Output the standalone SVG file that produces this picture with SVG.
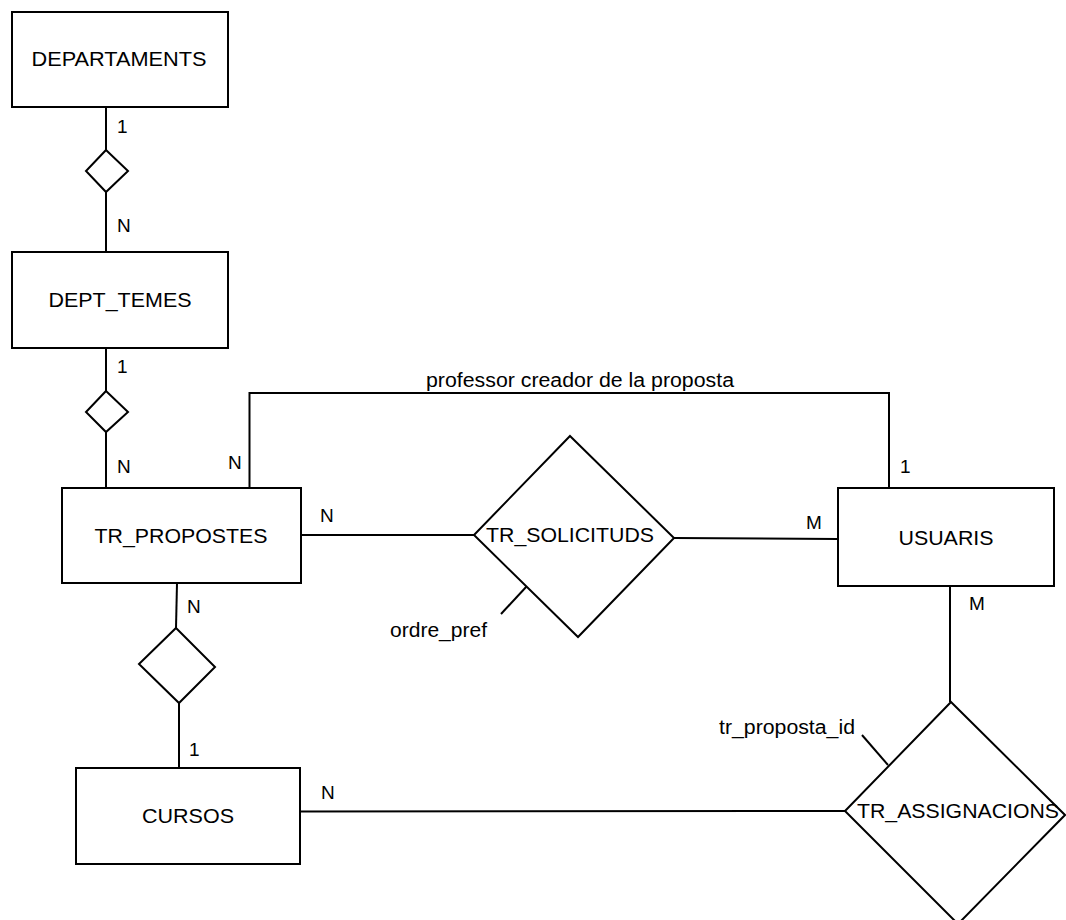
<svg xmlns="http://www.w3.org/2000/svg" width="1066" height="920" viewBox="0 0 1066 920">
<style>
.ent{fill:#fff;stroke:#000;stroke-width:2}
.rel{fill:#fff;stroke:#000;stroke-width:2;stroke-linejoin:miter}
.ln{fill:none;stroke:#000;stroke-width:2}
text{font-family:"Liberation Sans",Arial,sans-serif;font-size:20px;fill:#000}
.c{text-anchor:middle}
.lbl{font-size:19px}
</style>
<rect width="1066" height="920" fill="#fff"/>
<g id="connectors">
<line class="ln" x1="106" y1="107" x2="106" y2="150"/>
<line class="ln" x1="106" y1="192" x2="106" y2="252"/>
<line class="ln" x1="106" y1="348" x2="106" y2="391"/>
<line class="ln" x1="106" y1="432" x2="106" y2="488"/>
<polyline class="ln" points="249.5,488 249.5,393 889,393 889,488"/>
<line class="ln" x1="301" y1="535" x2="474" y2="535"/>
<line class="ln" x1="674" y1="538" x2="838" y2="539"/>
<line class="ln" x1="177" y1="583" x2="176" y2="628"/>
<line class="ln" x1="179" y1="703" x2="179" y2="768"/>
<line class="ln" x1="950" y1="586" x2="950" y2="702"/>
<line class="ln" x1="300" y1="811.5" x2="845" y2="811"/>
<line class="ln" x1="527" y1="586" x2="501" y2="614"/>
<line class="ln" x1="862" y1="735" x2="888" y2="765"/>
<text class="lbl" x="117" y="133">1</text>
<text class="lbl" x="117" y="232">N</text>
<text class="lbl" x="117" y="373">1</text>
<text class="lbl" x="117" y="473">N</text>
<text class="lbl" x="228" y="469">N</text>
<text class="lbl" x="320" y="522">N</text>
<text class="lbl" x="187" y="613">N</text>
<text class="lbl" x="189" y="756">1</text>
<text class="lbl" x="321" y="799">N</text>
<text class="lbl" x="900" y="473">1</text>
<text class="lbl" x="806" y="529">M</text>
<text class="lbl" x="969" y="610">M</text>
<text x="580" y="387" class="c" textLength="308" lengthAdjust="spacingAndGlyphs">professor creador de la proposta</text>
<text x="390" y="637" textLength="97" lengthAdjust="spacingAndGlyphs">ordre_pref</text>
<text x="719" y="734" textLength="136" lengthAdjust="spacingAndGlyphs">tr_proposta_id</text>
</g>
<g id="DEPARTAMENTS">
<rect class="ent" x="12" y="12" width="216" height="95"/>
<text class="c" x="119" y="66" textLength="175" lengthAdjust="spacingAndGlyphs">DEPARTAMENTS</text>
</g>
<g id="rel_dept">
<polygon class="rel" points="106,150 128,171 106,192 86,171"/>
</g>
<g id="DEPT_TEMES">
<rect class="ent" x="12" y="252" width="216" height="96"/>
<text class="c" x="120" y="307" textLength="143" lengthAdjust="spacingAndGlyphs">DEPT_TEMES</text>
</g>
<g id="rel_temes">
<polygon class="rel" points="106,391 128,412 106,432 86,412"/>
</g>
<g id="TR_PROPOSTES">
<rect class="ent" x="62" y="488" width="239" height="95"/>
<text class="c" x="181" y="543" textLength="173" lengthAdjust="spacingAndGlyphs">TR_PROPOSTES</text>
</g>
<g id="TR_SOLICITUDS">
<polygon class="rel" points="570,436 674,538 578,637 474,535"/>
<text class="c" x="570" y="542" textLength="168" lengthAdjust="spacingAndGlyphs">TR_SOLICITUDS</text>
</g>
<g id="USUARIS">
<rect class="ent" x="838" y="488" width="216" height="98"/>
<text class="c" x="946" y="545" textLength="95" lengthAdjust="spacingAndGlyphs">USUARIS</text>
</g>
<g id="rel_cursos">
<polygon class="rel" points="176,628 215,667 179,703 139,664"/>
</g>
<g id="CURSOS">
<rect class="ent" x="76" y="768" width="224" height="96"/>
<text class="c" x="188" y="823" textLength="92" lengthAdjust="spacingAndGlyphs">CURSOS</text>
</g>
<g id="TR_ASSIGNACIONS">
<polygon class="rel" points="951,702 1065,815 958,924 845,811"/>
<text class="c" x="958" y="818" textLength="202" lengthAdjust="spacingAndGlyphs">TR_ASSIGNACIONS</text>
</g>
</svg>
